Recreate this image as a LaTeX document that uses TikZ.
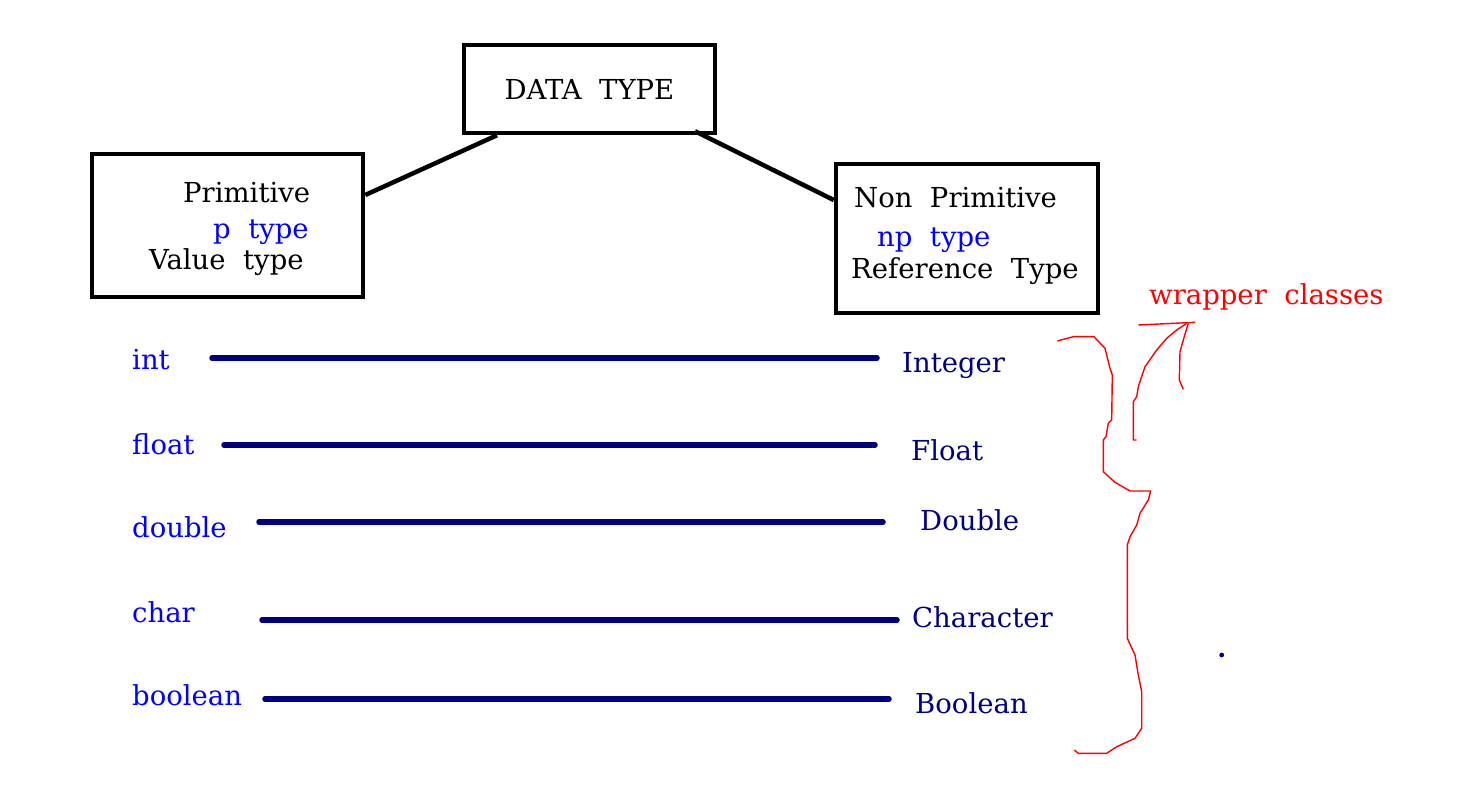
\documentclass[tikz,border=0pt]{standalone}
\usepackage{fontspec}
\setmainfont{DejaVu Serif}[WordSpace=2]
\usepackage{tikz}
\usetikzlibrary{calc}
\definecolor{pblue}{RGB}{0,0,255}
\definecolor{wnavy}{RGB}{0,0,128}
\definecolor{wred}{RGB}{255,0,0}

\begin{document}
\begin{tikzpicture}[x=1pt,y=-1pt]
			\tikzset{every node/.style={font=\fontsize{27.5}{32}\selectfont,inner sep=0pt}}
			\tikzset{typebox/.style={draw,line width=4.5pt,rectangle}}
			\tikzset{txt/.style={anchor=base west}}
			\tikzset{link/.style={line width=4.5pt}}
			\tikzset{pair/.style={wnavy,line width=5.5pt,line cap=round}}
			\tikzset{pen/.style={wred,line width=1.4pt,line join=round}}
			\useasboundingbox (0,0) rectangle (1481,794);
			% boxes
			\node[typebox,minimum width=251pt,minimum height=88pt] (dt) at (589.5,89) {DATA TYPE};
			\node[typebox,minimum width=271pt,minimum height=143pt] (prim) at (227.5,225.5) {};
			\node[typebox,minimum width=262pt,minimum height=149pt] (nprim) at (967,238.5) {};
			\node[txt] (prim-a) at (183,203) {Primitive};
			\node[txt,pblue] (prim-b) at (213,239) {p type};
			\node[txt] (prim-c) at (149,270) {Value type};
			\node[txt] (nprim-a) at (854,208) {Non Primitive};
			\node[txt,pblue] (nprim-b) at (877,247) {np type};
			\node[txt] (nprim-c) at (851,279) {Reference Type};
			\draw[link] ([yshift=30.5pt]prim.east) -- ([xshift=-92.5pt]dt.south);
			\draw[link] ([xshift=105.5pt,yshift=4pt]dt.south) -- ([yshift=38.5pt]nprim.west);
			% primitive -> wrapper
			\foreach \i/\p/\pb/\xa/\xb/\ly/\w/\wx/\wb in {1/int/370/212/877/358/Integer/902/372,
				2/float/454/224/875/445/Float/911/460,
				3/double/537/259/883/522/Double/920/530,
				4/char/622/262/897/620/Character/912/627,
				5/boolean/705/265/889/699/Boolean/915/713}{
				\node[txt,pblue] (p-\i) at (132,\pb) {\p};
				\node[txt,wnavy] (w-\i) at (\wx,\wb) {\w};
				\coordinate (l-\i) at (\xa,\ly);
				\coordinate (r-\i) at (\xb,\ly);
				\draw[pair] (l-\i) -- (r-\i);
			}
			\node[txt,wred] (wrap) at (1149,305) {wrapper classes};
			% hand drawn brace
			\draw[pen] (1057.3,341) -- (1073.3,336.7) -- (1094,336.7) -- (1105,348.3) -- (1110,368.3) -- (1112.3,375) -- (1111.7,420) -- (1108.3,423.3) -- (1106,436.7) -- (1103.3,440) -- (1103.3,471.7) -- (1115,482.3) -- (1130,491) -- (1150.7,491) -- (1148.3,500) -- (1140,513.3) -- (1136.7,525) -- (1130,536.7) -- (1127.3,545) -- (1127.3,638.3) -- (1135,655) -- (1138.3,675) -- (1141.7,691.7) -- (1141.7,728.3) -- (1135,738.3) -- (1116.7,746.7) -- (1106.7,753.3) -- (1078.3,753.3) -- (1074.3,750);
			\draw[pen] (1138.3,325) -- (1195,322.3);
			\draw[pen] (1188.3,323.3) -- (1183.3,340) -- (1180,351.7) -- (1179.3,380) -- (1183.3,389.3);
			\draw[pen] (1186.7,323.3) -- (1176.7,330) -- (1166.7,338.3) -- (1156.7,350) -- (1145,366.7) -- (1138.3,386.7) -- (1136.7,396.7) -- (1133.3,401.7) -- (1133.3,440) -- (1136.7,440);
			\fill[wnavy] (1221.7,655) circle (2.4pt);
		\end{tikzpicture}
\end{document}
